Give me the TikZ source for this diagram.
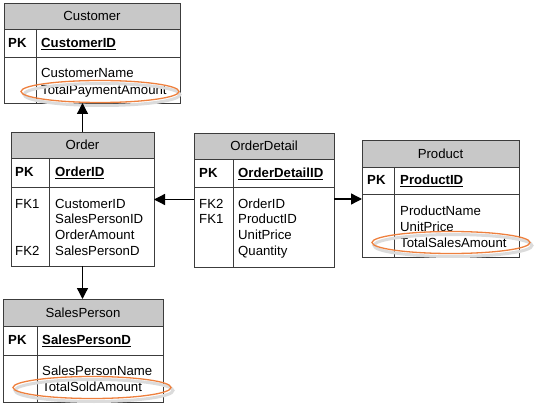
\documentclass[tikz,border=0pt]{standalone}
\usepackage{fontspec}
\setmainfont{Liberation Sans}
\usetikzlibrary{arrows.meta}
\definecolor{hdrgray}{RGB}{200,200,200}
\definecolor{boxline}{RGB}{60,60,60}
\definecolor{markorange}{RGB}{238,128,62}

\tikzset{
  tbl/.style={draw=boxline, line width=0.9pt, inner sep=0pt, outer sep=0pt, anchor=north west},
  hdr/.style={tbl, fill=hdrgray, text height=9.4pt, text depth=0pt, font=\fontsize{13.2}{15}\selectfont},
  txt/.style={inner sep=0pt, text height=9.4pt, text depth=0pt, anchor=west, font=\fontsize{13.2}{15}\selectfont},
  key/.style={txt, font=\fontsize{13.2}{15}\selectfont\bfseries},
  divline/.style={draw=boxline, line width=0.9pt},
  rel/.style={line width=1.3pt, -{Triangle[length=11pt,width=11pt]}},
  highlight/.style={draw=markorange, line width=1.3pt},
  halo/.style={draw=black!14, line width=3pt}
}

\begin{document}
\begin{tikzpicture}[x=1pt,y=-1pt]

	\useasboundingbox (0,0) rectangle (555,404);

	% Customer
	\node[hdr, minimum width=176pt, minimum height=26pt] (custH) at (4,3) {Customer};
	\node[tbl, minimum width=176pt, minimum height=28pt] (custK) at (4,29) {};
	\node[tbl, minimum width=176pt, minimum height=46pt] (custA) at (4,57) {};
	\draw[divline] (36,29) -- (36,103);
	\node[key] (custPK) at (8,43) {PK};
	\node[key] (custID) at (41,43) {\underline{CustomerID}};
	\node[txt] (custF1) at (41,73) {CustomerName};
	\node[txt] (custF2) at (41,89.5) {TotalPaymentAmount};
	\draw[halo] (102,94.5) ellipse (78pt and 11pt);
	\draw[highlight] (100,91.5) ellipse (79pt and 11pt);

	% Order
	\node[hdr, minimum width=143pt, minimum height=26pt] (ordH) at (11,132) {Order};
	\node[tbl, minimum width=143pt, minimum height=29pt] (ordK) at (11,158) {};
	\node[tbl, minimum width=143pt, minimum height=79pt] (ordA) at (11,187) {};
	\draw[divline] (49,158) -- (49,266);
	\node[key] (ordPK) at (15,172) {PK};
	\node[key] (ordID) at (55,172) {\underline{OrderID}};
	\node[txt] (ordFK1) at (15,204) {FK1};
	\node[txt] (ordFK2) at (15,251) {FK2};
	\node[txt] (ordF1) at (55,204) {CustomerID};
	\node[txt] (ordF2) at (55,219) {SalesPersonID};
	\node[txt] (ordF3) at (55,235) {OrderAmount};
	\node[txt] (ordF4) at (55,251) {SalesPersonD};

	% OrderDetail
	\node[hdr, minimum width=140pt, minimum height=26pt] (odH) at (194,133) {OrderDetail};
	\node[tbl, minimum width=140pt, minimum height=28pt] (odK) at (194,159) {};
	\node[tbl, minimum width=140pt, minimum height=80pt] (odA) at (194,187) {};
	\draw[divline] (233,159) -- (233,267);
	\node[key] (odPK) at (199,173) {PK};
	\node[key] (odID) at (238,173) {\underline{OrderDetailID}};
	\node[txt] (odFK2) at (199,204) {FK2};
	\node[txt] (odFK1) at (199,219) {FK1};
	\node[txt] (odF1) at (238,204) {OrderID};
	\node[txt] (odF2) at (238,219) {ProductID};
	\node[txt] (odF3) at (238,235) {UnitPrice};
	\node[txt] (odF4) at (238,251) {Quantity};

	% Product
	\node[hdr, minimum width=157pt, minimum height=27pt] (prH) at (362,140) {Product};
	\node[tbl, minimum width=157pt, minimum height=27pt] (prK) at (362,167) {};
	\node[tbl, minimum width=157pt, minimum height=63pt] (prA) at (362,194) {};
	\draw[divline] (394,167) -- (394,257);
	\node[key] (prPK) at (367,180) {PK};
	\node[key] (prID) at (400,180) {\underline{ProductID}};
	\node[txt] (prF1) at (400,211) {ProductName};
	\node[txt] (prF2) at (400,227) {UnitPrice};
	\node[txt] (prF3) at (400,243) {TotalSalesAmount};
	\draw[halo] (453,245.5) ellipse (79pt and 11pt);
	\draw[highlight] (451,242.5) ellipse (79pt and 11pt);

	% SalesPerson
	\node[hdr, minimum width=160pt, minimum height=27pt] (spH) at (3,299) {SalesPerson};
	\node[tbl, minimum width=160pt, minimum height=29pt] (spK) at (3,326) {};
	\node[tbl, minimum width=160pt, minimum height=47pt] (spA) at (3,355) {};
	\draw[divline] (37,326) -- (37,402);
	\node[key] (spPK) at (8,340) {PK};
	\node[key] (spID) at (42,340) {\underline{SalesPersonD}};
	\node[txt] (spF1) at (42,371) {SalesPersonName};
	\node[txt] (spF2) at (42,387) {TotalSoldAmount};
	\draw[halo] (94,390.5) ellipse (79pt and 11pt);
	\draw[highlight] (92,387.5) ellipse (79pt and 11pt);

	% relations
	\coordinate (odL) at (194,199.5);
	\coordinate (odR) at (334,199);
	\draw[rel] (ordH.north) -- (ordH.north |- custA.south);
	\draw[rel] (ordA.south) -- (ordA.south |- spH.north);
	\draw[rel] (odL) -- (odL -| ordA.east);
	\draw[rel] (odR) -- (odR -| prA.west);

\end{tikzpicture}
\end{document}
